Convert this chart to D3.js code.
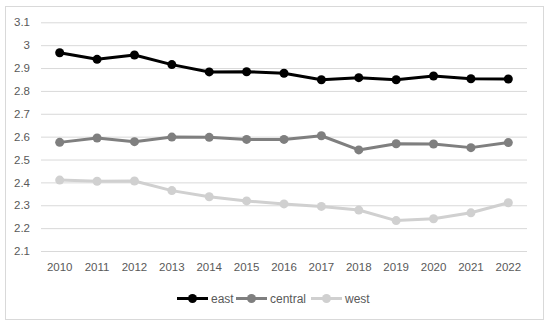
<!DOCTYPE html>
<html><head><meta charset="utf-8">
<script src="https://cdn.jsdelivr.net/npm/d3@7"></script>
<style>html,body{margin:0;padding:0;background:#fff;}svg{display:block;}</style>
</head><body>
<script>
const years = ["2010","2011","2012","2013","2014","2015","2016","2017","2018","2019","2020","2021","2022"];
const east = [2.967,2.938,2.957,2.915,2.883,2.884,2.877,2.849,2.858,2.849,2.865,2.853,2.852];
const central = [2.575,2.594,2.578,2.598,2.597,2.588,2.588,2.604,2.542,2.569,2.568,2.552,2.574];
const west = [2.41,2.405,2.406,2.364,2.337,2.319,2.306,2.295,2.279,2.233,2.241,2.267,2.311];
const yTicks = [2.1,2.2,2.3,2.4,2.5,2.6,2.7,2.8,2.9,3,3.1];
const seriesNames = ["east","central","west"];
const seriesColors = ["#000000","#7f7f7f","#d0d0d0"];

const W = 550, H = 327;
const svg = d3.select("body").append("svg").attr("width", W).attr("height", H);
svg.append("rect").attr("x",5.5).attr("y",6.5).attr("width",538).attr("height",313)
  .attr("fill","#fff").attr("stroke","#d9d9d9");

const x = d3.scaleBand().domain(years).range([41,527]);
const y = d3.scaleLinear().domain([2.1,3.1]).range([251,22.3]);
const font = "'Liberation Sans', Arial, sans-serif";

// gridlines
const gy = svg.append("g").attr("transform","translate(41,0)")
  .call(d3.axisLeft(y).tickValues(yTicks).tickSize(-486).tickPadding(11).tickFormat(d3.format("")));
gy.select(".domain").remove();
gy.selectAll(".tick line").attr("stroke","#d9d9d9").attr("stroke-width",1);
gy.selectAll(".tick text").attr("fill","#595959").style("font-family",font).style("font-size","11.5px");

const gx = svg.append("g").attr("transform","translate(0,251)")
  .call(d3.axisBottom(x).tickSize(0).tickPadding(12));
gx.select(".domain").remove();
gx.selectAll(".tick text").attr("fill","#595959").style("font-family",font).style("font-size","11.5px");

const data = [east, central, west];
const line = d3.line().x((d,i)=>x(years[i])+x.bandwidth()/2).y(d=>y(d));
data.forEach((s,k)=>{
  svg.append("path").datum(s).attr("d",line).attr("fill","none")
    .attr("stroke",seriesColors[k]).attr("stroke-width",3).attr("stroke-linejoin","round");
  svg.append("g").selectAll("circle").data(s).join("circle")
    .attr("cx",(d,i)=>x(years[i])+x.bandwidth()/2).attr("cy",d=>y(d)).attr("r",4.5)
    .attr("fill",seriesColors[k]);
});

// legend
const legX = [177, 236, 311];
seriesNames.forEach((n,k)=>{
  const g = svg.append("g").attr("transform",`translate(${legX[k]},298.5)`);
  g.append("line").attr("x1",0).attr("x2",31).attr("stroke",seriesColors[k]).attr("stroke-width",3);
  g.append("circle").attr("cx",15.5).attr("r",4.5).attr("fill",seriesColors[k]);
  g.append("text").attr("x",34).attr("dy","0.35em").text(n)
    .attr("fill","#595959").style("font-family",font).style("font-size","12px");
});
</script>
</body></html>
